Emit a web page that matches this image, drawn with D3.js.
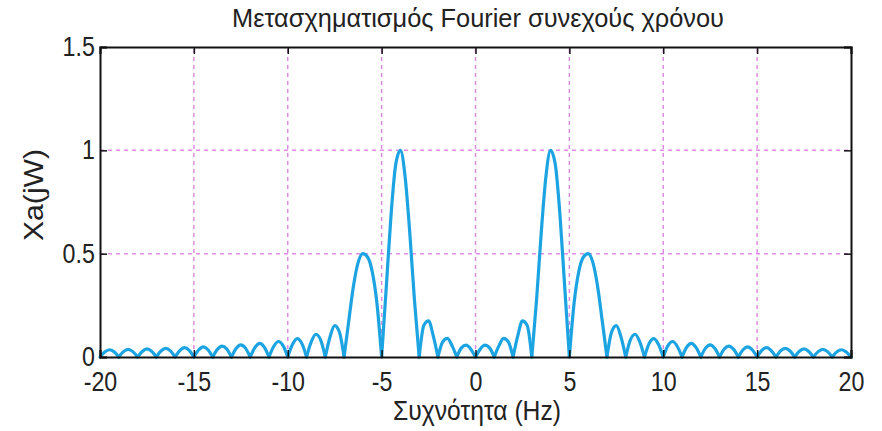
<!DOCTYPE html>
<html lang="el">
<head>
<meta charset="utf-8">
<title>Μετασχηματισμός Fourier</title>
<script src="https://d3js.org/d3.v7.min.js"></script>
<style>
  body { margin: 0; background: #fff; }
  svg text { font-family: "Liberation Sans", Arial, sans-serif; fill: #222; }
  .axis path, .axis line { stroke: #111; }
</style>
</head>
<body>
<div id="chart"></div>
<script>
// frequency samples (Hz), every quarter Hz from -20 to 20
var freqs = d3.range(-20, 20.001, 0.25);

// |Xa(jW)| at each frequency sample
var magnitude = [
  0, 0.024, 0.035, 0.025, 0, 0.026, 0.037, 0.026,
  0, 0.027, 0.039, 0.028, 0, 0.029, 0.042, 0.030,
  0, 0.031, 0.045, 0.032, 0, 0.034, 0.049, 0.035,
  0, 0.037, 0.053, 0.039, 0, 0.041, 0.059, 0.043,
  0, 0.045, 0.066, 0.048, 0, 0.051, 0.075, 0.055,
  0, 0.060, 0.089, 0.066, 0, 0.073, 0.110, 0.083,
  0, 0.097, 0.152, 0.121, 0, 0.175, 0.344, 0.458,
  0.500, 0.484, 0.413, 0.260, 0, 0.341, 0.685, 0.931,
  1.000, 0.873, 0.600, 0.274, 0, 0.154, 0.175, 0.102,
  0, 0.073, 0.090, 0.055, 0, 0.044, 0.057, 0.038,
  0,
  0.038, 0.057, 0.044, 0, 0.055, 0.090, 0.073, 0,
  0.102, 0.175, 0.154, 0, 0.274, 0.600, 0.873, 1.000,
  0.931, 0.685, 0.341, 0, 0.260, 0.413, 0.484, 0.500,
  0.458, 0.344, 0.175, 0, 0.121, 0.152, 0.097, 0,
  0.083, 0.110, 0.073, 0, 0.066, 0.089, 0.060, 0,
  0.055, 0.075, 0.051, 0, 0.048, 0.066, 0.045, 0,
  0.043, 0.059, 0.041, 0, 0.039, 0.053, 0.037, 0,
  0.035, 0.049, 0.034, 0, 0.032, 0.045, 0.031, 0,
  0.030, 0.042, 0.029, 0, 0.028, 0.039, 0.027, 0,
  0.026, 0.037, 0.026, 0, 0.025, 0.035, 0.024, 0
];

var xTicks = [-20, -15, -10, -5, 0, 5, 10, 15, 20];
var yTicks = [0, 0.5, 1, 1.5];

var titleText = "Μετασχηματισμός Fourier συνεχούς χρόνου";
var xLabel = "Συχνότητα (Hz)";
var yLabel = "Xa(jW)";

// view and plot box
var w_view = 882, h_view = 431;
var m = {top: 47, right: 31, bottom: 74, left: 100};

var svg = d3.select("#chart").append("svg")
  .attr("width", w_view)
  .attr("height", h_view);

var x = d3.scaleLinear().domain([-20, 20]).range([m.left, w_view - m.right]);
var y = d3.scaleLinear().domain([0, 1.5]).range([h_view - m.bottom, m.top]);

// dashed grid
var grid = svg.append("g")
  .attr("stroke", "#dd8ee2")
  .attr("stroke-width", 1.5)
  .attr("stroke-dasharray", "4,4");

grid.selectAll("line.gx")
  .data(xTicks.slice(1, -1))
  .join("line")
  .attr("class", "gx")
  .attr("x1", d => x(d)).attr("x2", d => x(d))
  .attr("y1", y(0)).attr("y2", y(1.5));

grid.selectAll("line.gy")
  .data(yTicks.slice(1, -1))
  .join("line")
  .attr("class", "gy")
  .attr("x1", x(-20)).attr("x2", x(20))
  .attr("y1", d => y(d)).attr("y2", d => y(d));

// curve: split into lobes at the zeros so the cusps stay sharp
var pts = freqs.map((f, i) => ({f: f, v: magnitude[i]}));
var lobes = [];
var cur = [pts[0]];
for (var i = 1; i < pts.length; i++) {
  cur.push(pts[i]);
  if (pts[i].v === 0) { lobes.push(cur); cur = [pts[i]]; }
}

var line = d3.line()
  .x(d => x(d.f))
  .y(d => y(d.v))
  .curve(d3.curveMonotoneX);

svg.append("g")
  .selectAll("path")
  .data(lobes)
  .join("path")
  .attr("d", line)
  .attr("fill", "none")
  .attr("stroke", "#1ca4e2")
  .attr("stroke-width", 3.2)
  .attr("stroke-linecap", "round")
  .attr("stroke-linejoin", "round");

// axes with inward ticks, box on all four sides
// no narrow font installed, so squeeze the labels horizontally
var fs = 27, squeeze = "scale(0.86,1)";
svg.append("g")
  .attr("class", "axis")
  .attr("transform", "translate(0," + y(0) + ")")
  .call(d3.axisBottom(x).tickValues(xTicks).tickSize(-7).tickPadding(15).tickFormat(d => String(d)))
  .call(g => g.selectAll("text").style("font-size", fs + "px").attr("transform", squeeze));

svg.append("g")
  .attr("class", "axis")
  .attr("transform", "translate(0," + y(1.5) + ")")
  .call(d3.axisTop(x).tickValues(xTicks).tickSize(-7).tickFormat(""));

svg.append("g")
  .attr("class", "axis")
  .attr("transform", "translate(" + x(-20) + ",0)")
  .call(d3.axisLeft(y).tickValues(yTicks).tickSize(-7).tickPadding(6).tickFormat(d => String(d)))
  .call(g => g.selectAll("text").style("font-size", fs + "px").attr("transform", squeeze));

svg.append("g")
  .attr("class", "axis")
  .attr("transform", "translate(" + x(20) + ",0)")
  .call(d3.axisRight(y).tickValues(yTicks).tickSize(-7).tickFormat(""));

svg.selectAll(".axis path").attr("stroke-width", 2);
svg.selectAll(".axis line").attr("stroke-width", 1.5);

// titles
svg.append("text")
  .attr("x", 478).attr("y", 27)
  .attr("text-anchor", "middle")
  .attr("textLength", 492)
  .attr("lengthAdjust", "spacingAndGlyphs")
  .style("font-size", "26px")
  .text(titleText);

svg.append("text")
  .attr("x", 477).attr("y", 420)
  .attr("text-anchor", "middle")
  .attr("textLength", 168)
  .attr("lengthAdjust", "spacingAndGlyphs")
  .style("font-size", "27px")
  .text(xLabel);

svg.append("text")
  .attr("transform", "translate(43,195) rotate(-90)")
  .attr("text-anchor", "middle")
  .attr("textLength", 92)
  .attr("lengthAdjust", "spacingAndGlyphs")
  .style("font-size", "28px")
  .text(yLabel);
</script>
</body>
</html>
